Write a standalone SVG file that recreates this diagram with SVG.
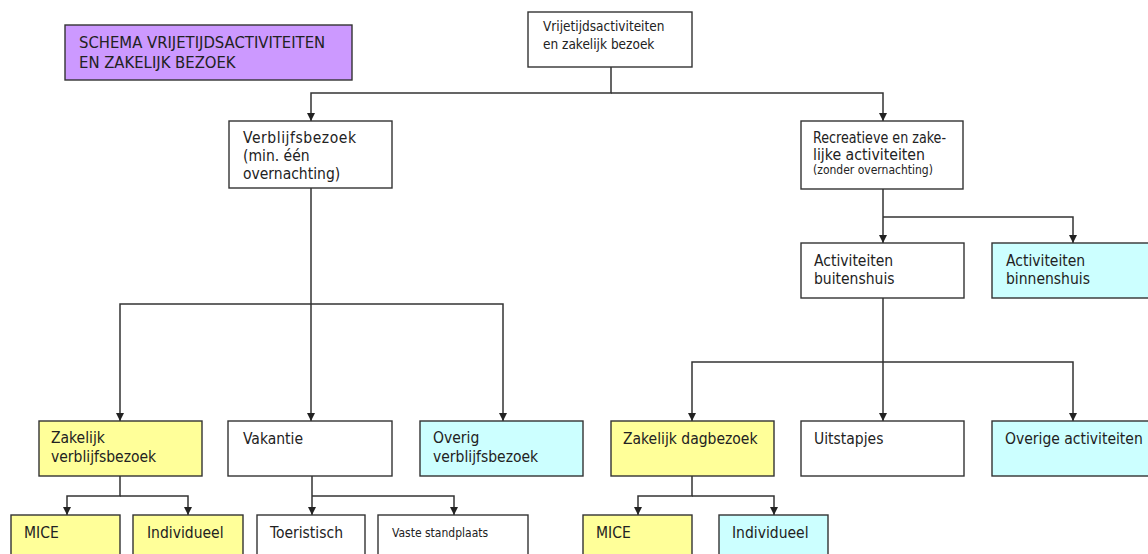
<svg xmlns="http://www.w3.org/2000/svg" width="1148" height="554" viewBox="0 0 1148 554">
<defs>
<marker id="arr" markerUnits="userSpaceOnUse" markerWidth="9" markerHeight="9" refX="8" refY="4" orient="auto">
<path d="M0,0 L8,4 L0,8 z" fill="#222"/>
</marker>
<style>
.box{stroke:#333;stroke-width:1.4}
.w{fill:#fff}.y{fill:#ffff99}.c{fill:#ccffff}.p{fill:#cc99ff}
text{font-family:"DejaVu Sans Condensed","DejaVu Sans",sans-serif;fill:#222}
.t{font-size:15.5px}.s{font-size:13.5px}.xs{font-size:12px}.h{font-size:16.5px}
.con path{fill:none;stroke:#333;stroke-width:1.5}
</style>
</defs>
<rect width="1148" height="554" fill="#fff"/>
<g id="title"><rect class="box p" x="65" y="25" width="287" height="55"/><text class="h" x="79" y="48">SCHEMA VRIJETIJDSACTIVITEITEN</text><text class="h" x="79" y="68">EN ZAKELIJK BEZOEK</text></g>
<g class="con" id="connectors">
<path d="M611,67 V93 H311 V121" marker-end="url(#arr)"/>
<path d="M611,93 H883 V121" marker-end="url(#arr)"/>
<path d="M311,188 V421" marker-end="url(#arr)"/>
<path d="M311,304 H120 V421" marker-end="url(#arr)"/>
<path d="M311,304 H503 V421" marker-end="url(#arr)"/>
<path d="M883,189 V243" marker-end="url(#arr)"/>
<path d="M883,217 H1073 V243" marker-end="url(#arr)"/>
<path d="M883,298 V421" marker-end="url(#arr)"/>
<path d="M883,362 H692 V421" marker-end="url(#arr)"/>
<path d="M883,362 H1073 V421" marker-end="url(#arr)"/>
<path d="M120,476 V496 H67 V515" marker-end="url(#arr)"/>
<path d="M120,496 H188 V515" marker-end="url(#arr)"/>
<path d="M312,476 V496 V515" marker-end="url(#arr)"/>
<path d="M312,496 H454 V515" marker-end="url(#arr)"/>
<path d="M692,476 V496 H638 V515" marker-end="url(#arr)"/>
<path d="M692,496 H774 V515" marker-end="url(#arr)"/>
</g>
<g id="root"><rect class="box w" x="528" y="12" width="164" height="55"/><text class="s" x="543" y="31">Vrijetijdsactiviteiten</text><text class="s" x="543" y="49">en zakelijk bezoek</text></g>
<g id="verblijf"><rect class="box w" x="229" y="121" width="163" height="67"/><text class="t" x="243" y="143" textLength="113">Verblijfsbezoek</text><text class="t" x="243" y="161">(min. één</text><text class="t" x="243" y="179">overnachting)</text></g>
<g id="recreatief"><rect class="box w" x="801" y="121" width="162" height="68"/><text class="t" x="813" y="143" textLength="133" lengthAdjust="spacingAndGlyphs">Recreatieve en zake-</text><text class="t" x="813" y="160" textLength="112" lengthAdjust="spacingAndGlyphs">lijke activiteiten</text><text class="xs" x="813" y="174">(zonder overnachting)</text></g>
<g id="buitenshuis"><rect class="box w" x="801" y="243" width="163" height="55"/><text class="t" x="814" y="266">Activiteiten</text><text class="t" x="814" y="284">buitenshuis</text></g>
<g id="binnenshuis"><rect class="box c" x="992" y="243" width="165" height="55"/><text class="t" x="1006" y="266">Activiteiten</text><text class="t" x="1006" y="284">binnenshuis</text></g>
<g id="zakverblijf"><rect class="box y" x="39" y="421" width="163" height="55"/><text class="t" x="51" y="443">Zakelijk</text><text class="t" x="51" y="462">verblijfsbezoek</text></g>
<g id="vakantie"><rect class="box w" x="228" y="421" width="164" height="55"/><text class="t" x="243" y="444">Vakantie</text></g>
<g id="overigverblijf"><rect class="box c" x="420" y="421" width="163" height="55"/><text class="t" x="433" y="443">Overig</text><text class="t" x="433" y="462">verblijfsbezoek</text></g>
<g id="zakdag"><rect class="box y" x="611" y="421" width="163" height="55"/><text class="t" x="623" y="444">Zakelijk dagbezoek</text></g>
<g id="uitstapjes"><rect class="box w" x="801" y="421" width="163" height="55"/><text class="t" x="814" y="444">Uitstapjes</text></g>
<g id="overigact"><rect class="box c" x="992" y="421" width="165" height="55"/><text class="t" x="1005" y="444">Overige activiteiten</text></g>
<g id="mice1"><rect class="box y" x="11" y="515" width="109" height="55"/><text class="t" x="24" y="538">MICE</text></g>
<g id="indiv1"><rect class="box y" x="133" y="515" width="110" height="55"/><text class="t" x="147" y="538">Individueel</text></g>
<g id="toeristisch"><rect class="box w" x="257" y="515" width="108" height="55"/><text class="t" x="270" y="538">Toeristisch</text></g>
<g id="vaste"><rect class="box w" x="378" y="515" width="150" height="55"/><text class="xs" x="392" y="537">Vaste standplaats</text></g>
<g id="mice2"><rect class="box y" x="583" y="515" width="109" height="55"/><text class="t" x="596" y="538">MICE</text></g>
<g id="indiv2"><rect class="box c" x="719" y="515" width="109" height="55"/><text class="t" x="732" y="538">Individueel</text></g>
</svg>
